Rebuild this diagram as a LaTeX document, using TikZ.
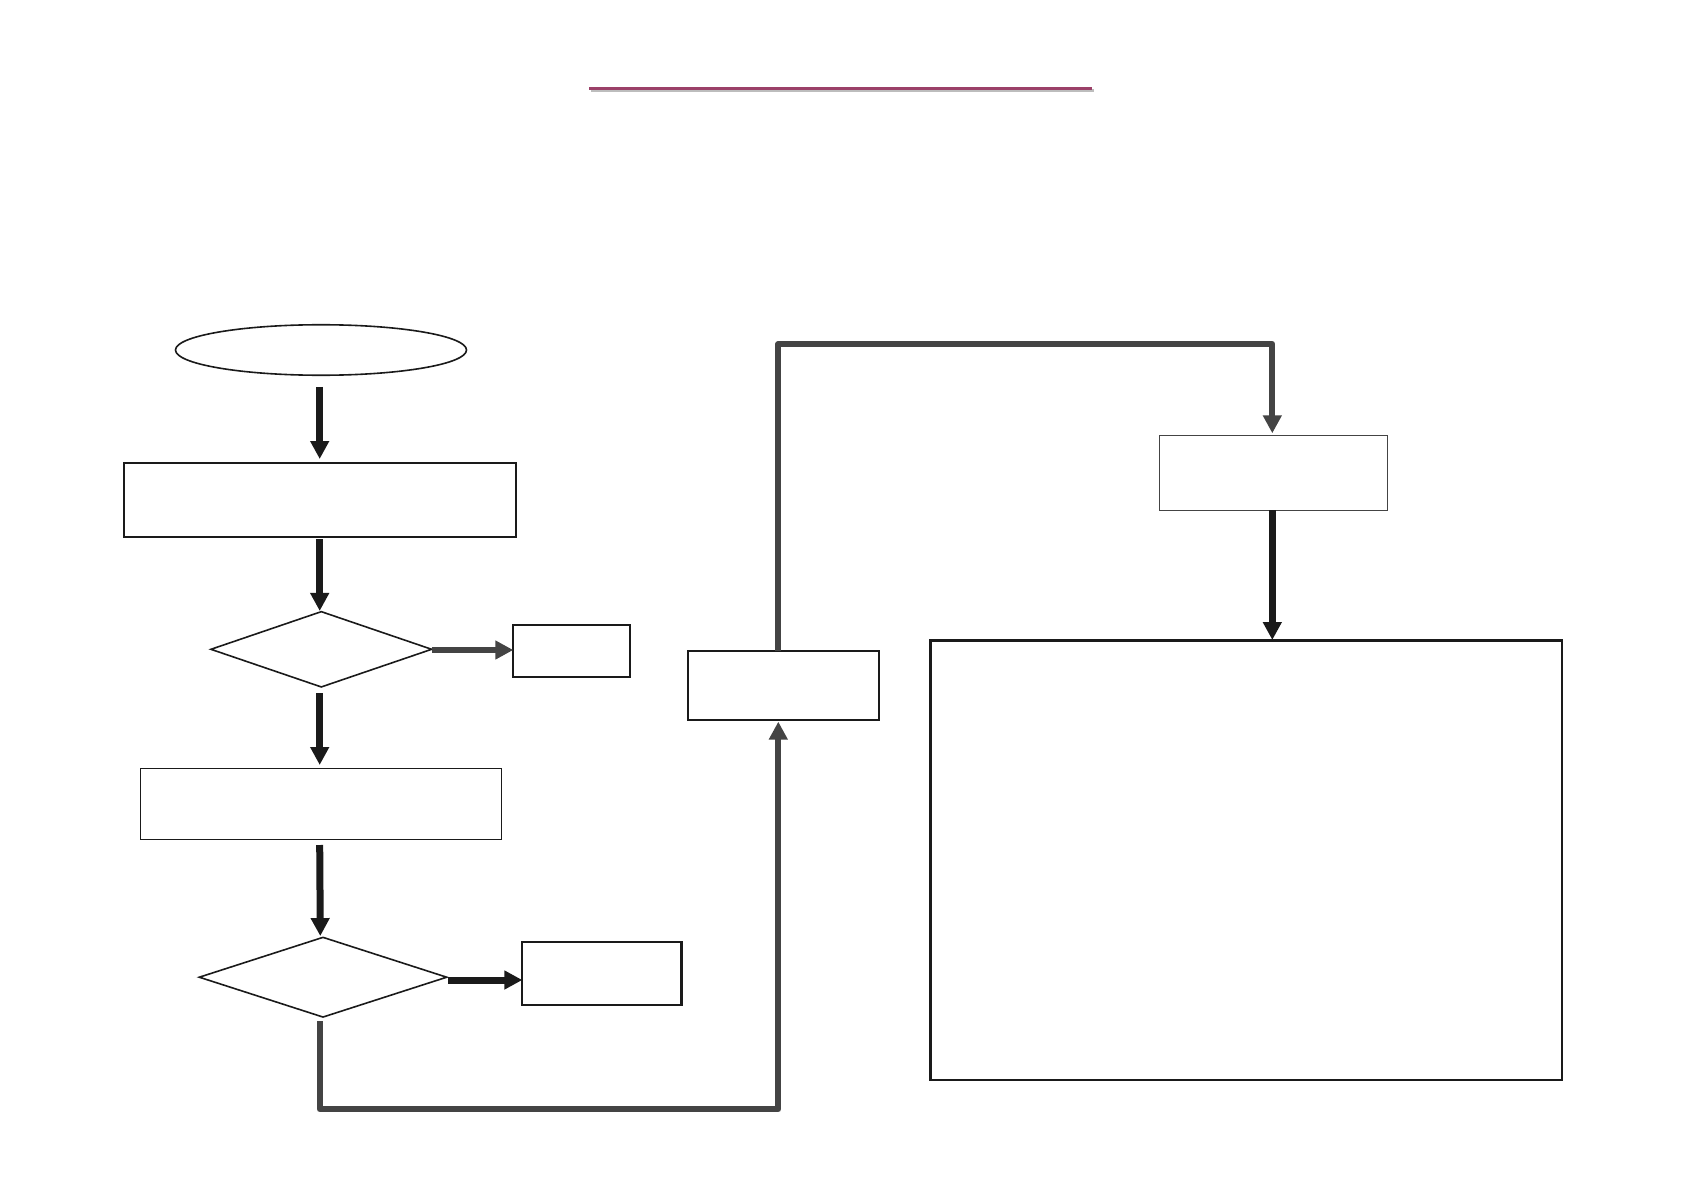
\documentclass[tikz,border=0pt]{standalone}
\usetikzlibrary{shapes.geometric,arrows.meta}
\definecolor{ink}{HTML}{1A1A1A}
\definecolor{conn}{HTML}{444444}
\definecolor{titleline}{HTML}{9B4068}
\definecolor{shadowgray}{HTML}{BDBDBD}
\tikzset{
  box/.style={draw=ink, line width=2.2pt, rectangle, inner sep=0pt, outer sep=0pt},
  thinbox/.style={draw=ink, line width=1.4pt, rectangle, inner sep=0pt, outer sep=0pt},
  graybox/.style={draw=conn, line width=1.5pt, rectangle, inner sep=0pt, outer sep=0pt},
  dia/.style={draw=ink, line width=1.6pt, diamond, inner sep=0pt, outer sep=0pt},
  oval/.style={draw=ink, line width=1.6pt, ellipse, inner sep=0pt, outer sep=0pt},
  blackarrow/.style={draw=ink, line width=7pt, -{Triangle[width=18pt,length=18pt]}},
  grayarrow/.style={draw=conn, line width=6pt, line join=round, -{Triangle[width=18pt,length=18pt]}},
}
\begin{document}
\begin{tikzpicture}[x=1pt,y=-1pt]
\useasboundingbox (0,0) rectangle (1684,1190);
% title line with shadow
\coordinate (tl) at (589,88.3);
\coordinate (tr) at (1092,88.3);
\draw[shadowgray, line width=2.8pt] ([xshift=2pt,yshift=-2.4pt]tl) -- ([xshift=2pt,yshift=-2.4pt]tr);
\draw[titleline, line width=2.8pt] (tl) -- (tr);
% nodes
\node[oval, minimum width=291pt, minimum height=50.5pt] (e1) at (321,350) {};
\node[box, minimum width=391.4pt, minimum height=74.3pt] (b1) at (320,499.85) {};
\node[dia, minimum width=220.7pt, minimum height=75.3pt] (d1) at (321.3,649.3) {};
\node[box, minimum width=117pt, minimum height=52.6pt] (s1) at (571.8,651) {};
\node[thinbox, minimum width=361.4pt, minimum height=71pt] (b2) at (321,803.8) {};
\node[dia, minimum width=247.4pt, minimum height=79.7pt] (d2) at (323,977.2) {};
\node[box, minimum width=159.1pt, minimum height=63pt] (s2) at (601.9,973.2) {};
\node[box, minimum width=191.3pt, minimum height=68.7pt] (b4) at (783.3,685.3) {};
\node[graybox, minimum width=227.6pt, minimum height=74.6pt] (b5) at (1273.5,473) {};
\node[box, minimum width=631.5pt, minimum height=439.5pt] (b6) at (1246.25,860.25) {};
% connectors
\draw[blackarrow] ([xshift=-1.3pt,yshift=-11.7pt]e1.south) -- ([xshift=-0.3pt,yshift=3.7pt]b1.north);
\draw[blackarrow] ([xshift=-0.3pt,yshift=-2.3pt]b1.south) -- ([xshift=-1.6pt,yshift=0.7pt]d1.north);
\draw[grayarrow] ([yshift=-0.7pt]d1.east) -- ([yshift=1pt]s1.west);
\draw[blackarrow] ([xshift=-1.6pt,yshift=-6.3pt]d1.south) -- ([xshift=-1.3pt,yshift=3.3pt]b2.north);
\draw[blackarrow] ([xshift=-1.3pt,yshift=-5.7pt]b2.south) -- ([xshift=-2.7pt,yshift=1.3pt]d2.north);
\draw[blackarrow] ([xshift=1.6pt,yshift=-2.8pt]d2.east) -- ([yshift=-6.8pt]s2.west);
\coordinate (c1) at ([xshift=-3.3pt]d2.south |- 0,1109.3);
\draw[grayarrow] ([xshift=-3.3pt,yshift=-4pt]d2.south) -- (c1) -| ([xshift=-5pt,yshift=-2pt]b4.south);
\coordinate (c2) at ([xshift=-5pt]b4.north |- 0,344);
\draw[grayarrow] ([xshift=-5pt]b4.north) -- (c2) -| ([xshift=-1.2pt,yshift=2.4pt]b5.north);
\draw[blackarrow] ([xshift=-1.2pt]b5.south) -- ([xshift=26.05pt,yshift=0.5pt]b6.north);
\end{tikzpicture}
\end{document}
